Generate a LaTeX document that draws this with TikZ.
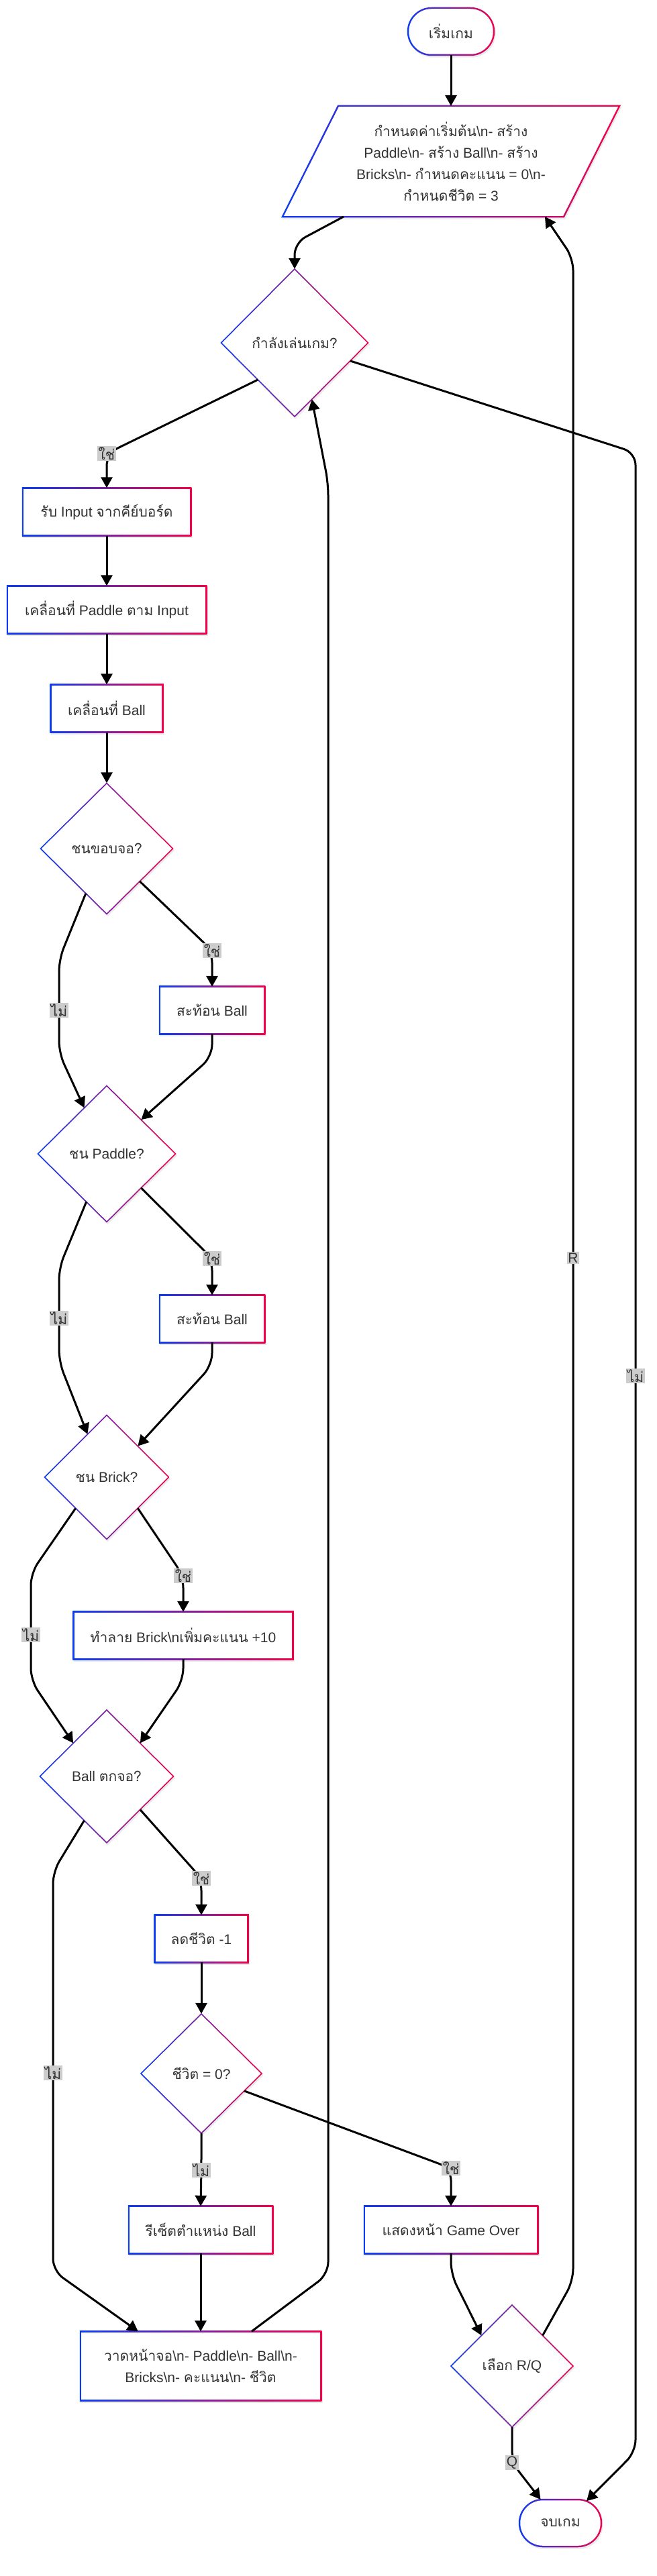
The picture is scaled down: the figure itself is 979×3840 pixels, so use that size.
\documentclass[tikz,border=0pt]{standalone}
\usepackage{fontspec}
\setmainfont{Liberation Sans}
\newfontfamily\thf[Script=Thai]{Loma}
\usetikzlibrary{shapes.geometric,shapes.misc,arrows.meta,calc}
\definecolor{cB}{HTML}{0A3CF5}
\definecolor{cR}{HTML}{F5004A}
\definecolor{txt}{HTML}{333333}
\definecolor{lab}{HTML}{CCCCCC}
\newcommand\bsn{\textbackslash n}
% #1 shape style, #2 name, #3 x, #4 y, #5 width, #6 height, #7 text
\newcommand\gnode[7]{%
  \node[#1, minimum width=#5pt+2.5pt, minimum height=#6pt+2.5pt, fill=black, opacity=0.08, draw=none, inner sep=0pt] at (#3+1.5,#4+2.5) {};
  \node[#1, minimum width=#5pt+2.5pt, minimum height=#6pt+2.5pt, left color=cB, right color=cR, draw=none, inner sep=0pt] at (#3,#4) {};
  \node[#1, minimum width=#5pt-2.5pt, minimum height=#6pt-2.5pt, fill=white, draw=none, inner sep=0pt] at (#3,#4) {};
  \node[#1, minimum width=#5pt, minimum height=#6pt, draw=none, inner sep=0pt, text=txt, align=center] (#2) at (#3,#4) {#7};
}
\tikzset{
  every node/.style={font=\fontsize{21}{32}\selectfont},
  arr/.style={draw=black, line width=3pt, -{Triangle[length=16pt,width=17pt]}, rounded corners=18pt},
  lbl/.style={fill=lab, text=txt, inner sep=1.5pt, sharp corners},
  boxs/.style={rectangle},
  dia/.style={diamond, aspect=1},
  term/.style={rounded rectangle},
}
\begin{document}
\begin{tikzpicture}[x=1pt, y=-1pt]
\useasboundingbox (0,0) rectangle (979,3840);

% ---------- start ----------
\gnode{term}{start}{672}{47}{128}{70}{\thf เริ่มเกม}

% ---------- init parallelogram ----------
\fill[black, opacity=0.08] (504.7,159.25) -- (926.5,159.25) -- (842.3,326.75) -- (420.5,326.75) -- cycle;
\shade[left color=cB, right color=cR] (503.2,156.75) -- (925,156.75) -- (840.8,324.25) -- (419,324.25) -- cycle;
\fill[white] (504.8,159.25) -- (921,159.25) -- (839.2,321.75) -- (423,321.75) -- cycle;
\coordinate (initT) at (672,158);
\coordinate (initBL) at (421,323);
\coordinate (initBR) at (840,323);
\node[text=txt, align=center, inner sep=0pt] (init) at (672,241)
  {{\thf กำหนดค่าเริ่มต้น}\bsn- {\thf สร้าง}\\
   Paddle\bsn- {\thf สร้าง} Ball\bsn- {\thf สร้าง}\\
   Bricks\bsn- {\thf กำหนดคะแนน} = 0\bsn-\\
   {\thf กำหนดชีวิต} = 3};

% ---------- main column ----------
\gnode{dia}{play}{439}{511}{219}{220}{\thf กำลังเล่นเกม?}
\gnode{boxs}{input}{159}{763}{250}{71}{{\thf รับ} Input {\thf จากคีย์บอร์ด}}
\gnode{boxs}{movep}{159}{909}{296}{71}{{\thf เคลื่อนที่} Paddle {\thf ตาม} Input}
\gnode{boxs}{moveb}{159}{1056}{167}{71}{{\thf เคลื่อนที่} Ball}
\gnode{dia}{d1}{159}{1265}{197}{195}{\thf ชนขอบจอ?}
\gnode{boxs}{bounce1}{316}{1506}{156}{70}{{\thf สะท้อน} Ball}
\gnode{dia}{d2}{159}{1720}{205}{203}{{\thf ชน} Paddle?}
\gnode{boxs}{bounce2}{316}{1966}{156}{70}{{\thf สะท้อน} Ball}
\gnode{dia}{d3}{159}{2202}{185}{185}{{\thf ชน} Brick?}
\gnode{boxs}{destroy}{273}{2438}{327}{70}{{\thf ทำลาย} Brick\bsn{\thf เพิ่มคะแนน} +10}
\gnode{dia}{d4}{159}{2648}{199}{198}{Ball {\thf ตกจอ?}}
\gnode{boxs}{lose}{300}{2890}{139}{70}{{\thf ลดชีวิต} -1}
\gnode{dia}{d5}{300}{3091}{180}{178}{{\thf ชีวิต} = 0?}
\gnode{boxs}{reset}{299}{3324}{214}{70}{{\thf รีเซ็ตตำแหน่ง} Ball}
\gnode{boxs}{drawb}{299}{3527}{358}{103}{{\thf วาดหน้าจอ}\bsn- Paddle\bsn- Ball\bsn-\\ Bricks\bsn- {\thf คะแนน}\bsn- {\thf ชีวิต}}
\gnode{boxs}{gameover}{672}{3324}{258}{70}{{\thf แสดงหน้า} Game Over}
\gnode{dia}{choose}{763}{3527}{182}{182}{{\thf เลือก} R/Q}
\gnode{term}{endn}{835}{3761}{122}{70}{\thf จบเกม}

% ---------- connectors ----------
\draw[arr] (start.south) -- (initT);
\draw[arr] ($(initBL)!0.217!(initBR)$) -- (439,362) -- (play.north);
\draw[arr] (play.south west) -- (159,676) node[lbl]{\thf ใช่} -- (input.north);
\draw[arr] (play.-18) -- (947,675) -- (947,2051) node[lbl]{\thf ไม่} -- (947,3655) -- (endn.40);
\draw[arr] (input.south) -- (movep.north);
\draw[arr] (movep.south) -- (moveb.north);
\draw[arr] (moveb.south) -- (d1.north);
\draw[arr] (d1.south east) -- (316,1417) node[lbl]{\thf ใช่} -- (bounce1.north);
\draw[arr] (d1.-115) -- (88,1430) -- (88,1506) node[lbl]{\thf ไม่} -- (88,1570) -- (d2.116);
\draw[arr] (bounce1.south) -- (316,1575) -- (d2.north east);
\draw[arr] (d2.south east) -- (316,1876) node[lbl]{\thf ใช่} -- (bounce2.north);
\draw[arr] (d2.-113) -- (88,1890) -- (88,1965) node[lbl]{\thf ไม่} -- (88,2030) -- (d3.114);
\draw[arr] (bounce2.south) -- (316,2035) -- (d3.north east);
\draw[arr] (d3.south east) -- (273,2349) node[lbl]{\thf ใช่} -- (destroy.north);
\draw[arr] (d3.south west) -- (46,2345) -- (46,2437) node[lbl]{\thf ไม่} -- (46,2505) -- (d4.north west);
\draw[arr] (destroy.south) -- (273,2505) -- (d4.north east);
\draw[arr] (d4.south east) -- (300,2800) node[lbl]{\thf ใช่} -- (lose.north);
\draw[arr] (d4.-117) -- (79,2790) -- (79,3090) node[lbl]{\thf ไม่} -- (79,3385) -- ($(drawb.north west)!0.24!(drawb.north east)$);
\draw[arr] (lose.south) -- (d5.north);
\draw[arr] (d5.south) -- (300,3235) node[lbl]{\thf ไม่} -- (reset.north);
\draw[arr] (d5.-22) -- (672,3232) node[lbl]{\thf ใช่} -- (gameover.north);
\draw[arr] (reset.south) -- (drawb.north);
\draw[arr] ($(drawb.north west)!0.712!(drawb.north east)$) -- (489,3390) -- (489,720) -- (play.-73);
\draw[arr] (gameover.south) -- (672,3390) -- (choose.north west);
\draw[arr] (choose.north east) -- (854,3400) -- (854,1875) node[lbl]{R} -- (854,385) -- ($(initBL)!0.933!(initBR)$);
\draw[arr] (choose.south) -- (763,3671) node[lbl]{Q} -- (endn.130);
\end{tikzpicture}
\end{document}
